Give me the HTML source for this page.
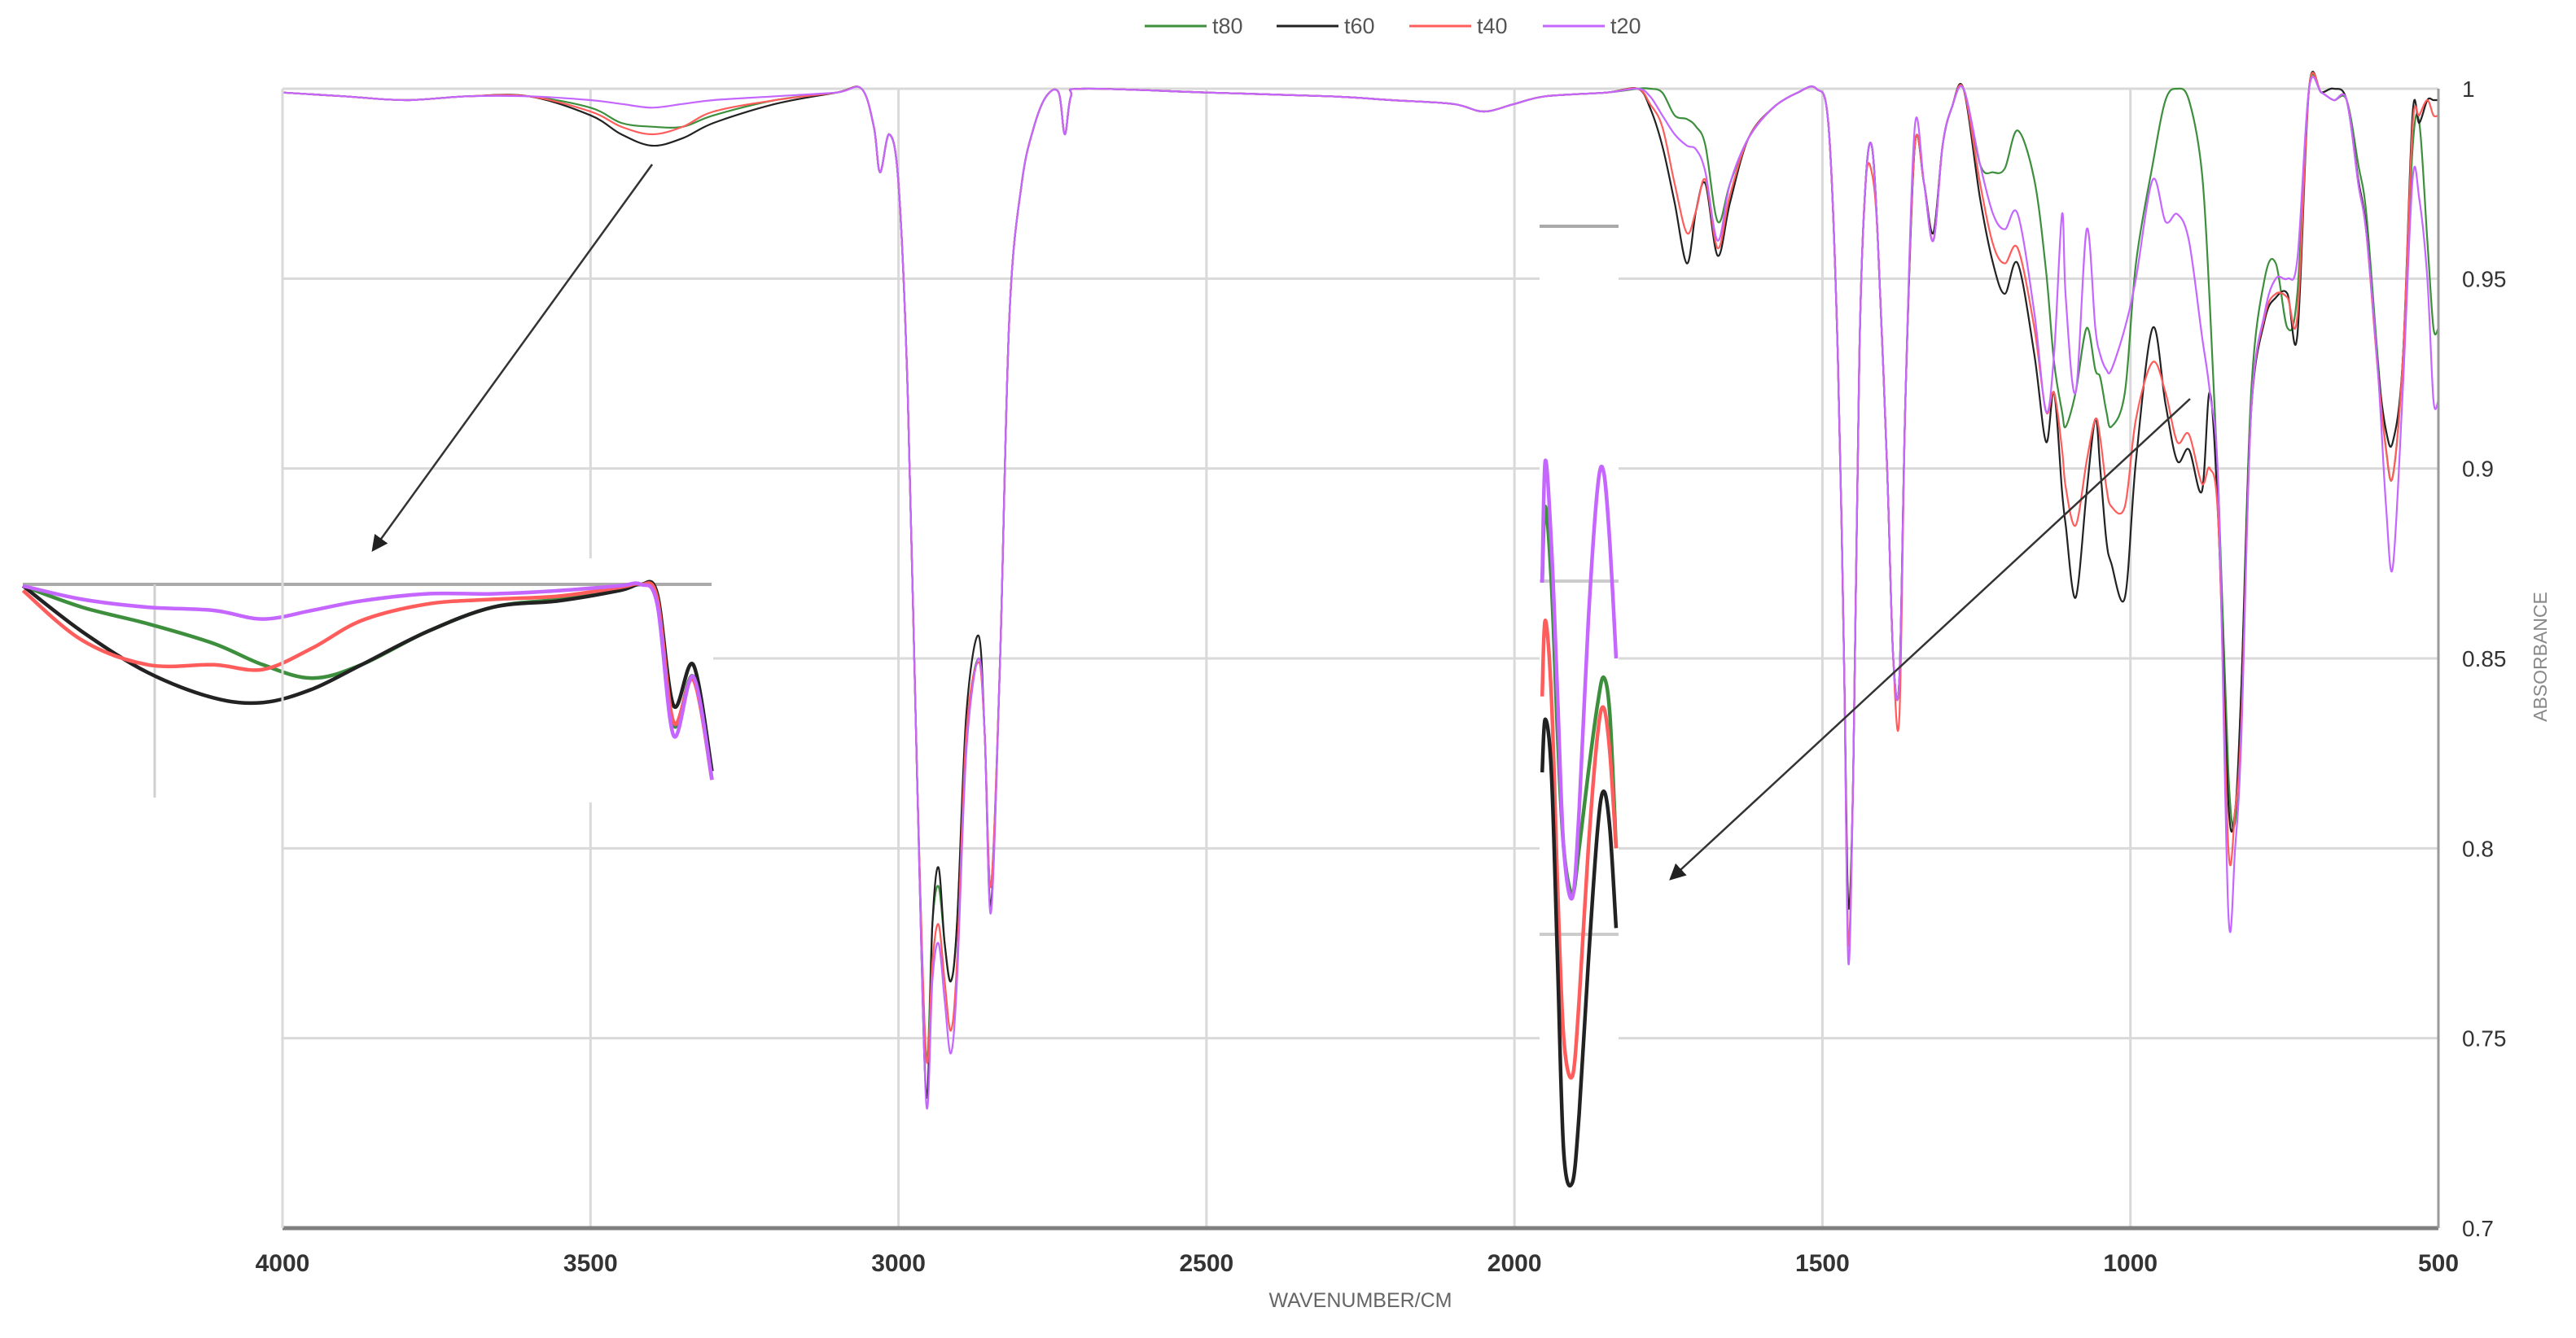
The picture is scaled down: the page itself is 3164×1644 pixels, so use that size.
<!DOCTYPE html>
<html><head><meta charset="utf-8"><style>
html,body{margin:0;padding:0;background:#fff;}
svg{display:block;font-family:"Liberation Sans",sans-serif;}
</style></head><body>
<svg id="chart" width="3164" height="1644" viewBox="0 0 3164 1644" xmlns="http://www.w3.org/2000/svg">
<rect width="3164" height="1644" fill="#fff"/>
<g id="grid"></g>
<g id="series"></g>
<g id="cutout"></g>
<g id="inset"></g>
<g id="axes"></g>
<g id="legend"></g>
</svg>
<script>
const xTicks=[4000,3500,3000,2500,2000,1500,1000,500];
const yTicks=[0.7,0.75,0.8,0.85,0.9,0.95,1];
const yTickLabels=["0.7","0.75","0.8","0.85","0.9","0.95","1"];
const seriesNames=["t80","t60","t40","t20"];
const wn=[4000,3900,3800,3700,3600,3500,3450,3400,3350,3300,3200,3100,3060,3040,3030,3015,3000,2985,2970,2955,2945,2935,2925,2915,2905,2890,2870,2860,2850,2835,2820,2800,2780,2760,2740,2730,2720,2700,2500,2300,2200,2100,2050,2000,1950,1850,1800,1780,1760,1740,1720,1705,1690,1670,1650,1620,1580,1540,1510,1490,1475,1465,1458,1450,1440,1430,1420,1410,1395,1385,1375,1365,1350,1335,1320,1305,1290,
1271,1244,1223,1204,1183,1156,1137,1124,1111,1105,1089,1071,1057,1049,1039,1031,1009,991,964,943,924,905,884,871,857,841,830,820,804,782,764,745,729,710,690,670,649,630,617,598,585,574,558,542,531,518,508,500];
const t80=[0.999,0.998,0.997,0.998,0.998,0.995,0.991,0.990,0.990,0.993,0.997,0.999,1.0,0.99,0.978,0.988,0.975,0.92,0.82,0.745,0.78,0.79,0.775,0.765,0.78,0.83,0.85,0.83,0.79,0.85,0.94,0.975,0.99,0.998,0.999,0.988,0.998,1.0,0.999,0.998,0.997,0.996,0.994,0.996,0.998,0.999,1.0,1.0,0.999,0.993,0.992,0.99,0.985,0.965,0.975,0.987,0.995,0.999,1.0,0.99,0.93,0.85,0.775,0.82,0.93,0.975,0.985,0.96,0.9,0.85,0.845,0.92,0.985,0.975,0.96,0.985,0.995,
1.0,0.98,0.978,0.979,0.989,0.976,0.952,0.928,0.915,0.911,0.92,0.937,0.926,0.924,0.915,0.911,0.92,0.954,0.98,0.997,1.0,0.997,0.978,0.943,0.894,0.82,0.807,0.842,0.92,0.95,0.954,0.937,0.946,1.0,0.999,0.997,0.997,0.98,0.967,0.928,0.905,0.898,0.928,0.984,0.991,0.96,0.937,0.937];
const t60=[0.999,0.998,0.997,0.998,0.998,0.993,0.988,0.985,0.987,0.991,0.996,0.999,1.0,0.99,0.978,0.988,0.975,0.92,0.82,0.735,0.78,0.795,0.775,0.765,0.78,0.835,0.856,0.83,0.785,0.85,0.94,0.975,0.99,0.998,0.999,0.988,0.998,1.0,0.999,0.998,0.997,0.996,0.994,0.996,0.998,0.999,1.0,0.995,0.985,0.97,0.954,0.968,0.975,0.956,0.97,0.987,0.995,0.999,1.0,0.99,0.93,0.85,0.785,0.82,0.93,0.975,0.985,0.96,0.9,0.85,0.845,0.92,0.985,0.975,0.962,0.985,0.995,
1.0,0.971,0.954,0.946,0.954,0.93,0.907,0.92,0.894,0.885,0.866,0.894,0.913,0.90,0.881,0.875,0.866,0.902,0.937,0.917,0.902,0.905,0.894,0.92,0.885,0.812,0.81,0.842,0.915,0.939,0.945,0.946,0.935,1.0,0.999,1.0,0.997,0.976,0.963,0.926,0.91,0.907,0.928,0.993,0.991,0.997,0.997,0.997];
const t40=[0.999,0.998,0.997,0.998,0.998,0.994,0.990,0.988,0.990,0.994,0.997,0.999,1.0,0.99,0.978,0.988,0.975,0.92,0.82,0.745,0.77,0.78,0.765,0.752,0.77,0.83,0.849,0.83,0.79,0.85,0.94,0.975,0.99,0.998,0.999,0.988,0.998,1.0,0.999,0.998,0.997,0.996,0.994,0.996,0.998,0.999,1.0,0.996,0.99,0.975,0.962,0.968,0.976,0.958,0.972,0.987,0.995,0.999,1.0,0.99,0.93,0.85,0.775,0.82,0.93,0.975,0.978,0.96,0.9,0.85,0.835,0.92,0.985,0.975,0.96,0.985,0.995,
1.0,0.975,0.959,0.954,0.958,0.937,0.915,0.92,0.905,0.895,0.885,0.902,0.913,0.908,0.895,0.89,0.89,0.913,0.928,0.92,0.907,0.909,0.896,0.9,0.885,0.8,0.81,0.833,0.915,0.94,0.946,0.945,0.94,1.0,0.999,0.997,0.997,0.975,0.962,0.925,0.905,0.898,0.928,0.99,0.993,0.997,0.993,0.993];
const t20=[0.999,0.998,0.997,0.998,0.998,0.997,0.996,0.995,0.996,0.997,0.998,0.999,1.0,0.99,0.978,0.988,0.975,0.92,0.82,0.733,0.765,0.775,0.76,0.746,0.765,0.825,0.85,0.83,0.783,0.85,0.94,0.975,0.99,0.998,0.999,0.988,0.998,1.0,0.999,0.998,0.997,0.996,0.994,0.996,0.998,0.999,1.0,0.998,0.993,0.988,0.985,0.984,0.978,0.96,0.975,0.987,0.995,0.999,1.0,0.99,0.93,0.85,0.77,0.82,0.93,0.975,0.985,0.96,0.9,0.85,0.845,0.92,0.99,0.975,0.96,0.985,0.995,
1.0,0.98,0.967,0.963,0.967,0.941,0.915,0.93,0.967,0.945,0.92,0.963,0.937,0.93,0.926,0.926,0.937,0.95,0.976,0.965,0.967,0.96,0.935,0.92,0.894,0.783,0.8,0.829,0.915,0.941,0.95,0.95,0.955,1.0,0.999,0.997,0.997,0.975,0.962,0.925,0.89,0.874,0.92,0.976,0.971,0.95,0.918,0.918];
// cutout inset (1955-1835 cm-1)
const cutWn=[1955,1950,1940,1930,1920,1906,1895,1880,1865,1855,1845,1835];
const cutT80=[0.87,0.89,0.87,0.83,0.80,0.788,0.80,0.82,0.838,0.845,0.835,0.80];
const cutT60=[0.82,0.834,0.82,0.77,0.72,0.712,0.73,0.77,0.805,0.815,0.805,0.779];
const cutT40=[0.84,0.86,0.84,0.79,0.75,0.74,0.76,0.80,0.83,0.837,0.825,0.80];
const cutT20=[0.87,0.902,0.88,0.84,0.80,0.787,0.81,0.86,0.895,0.899,0.88,0.85];
// zoom inset (3624-2995 cm-1)
const insWn=[3624,3570,3510,3450,3405,3360,3315,3255,3195,3135,3080,3060,3045,3030,3012,2995];
const insT80=[0.9998,0.9971,0.995,0.9925,0.9898,0.9881,0.9898,0.994,0.9971,0.9981,0.9992,1,0.9983,0.9821,0.9883,0.9752];
const insT60=[0.9998,0.994,0.9888,0.9856,0.985,0.9867,0.9898,0.994,0.9971,0.9979,0.9992,1,0.9988,0.9846,0.9898,0.9763];
const insT40=[0.9992,0.9929,0.9898,0.9898,0.9892,0.9919,0.9954,0.9975,0.9981,0.9985,0.9996,1,0.9983,0.9825,0.9879,0.9752];
const insT20=[0.9998,0.9981,0.9971,0.9967,0.9956,0.9967,0.9979,0.9988,0.9988,0.9992,0.9998,1,0.9975,0.9808,0.9883,0.9752];

const colors=["#3d8f3d","#222222","#ff5c5c","#c466ff"];
const NS="http://www.w3.org/2000/svg";
const L=347,R=2995,T=109,B=1509;
const xS=v=>L+(4000-v)/3500*(R-L);
const yS=v=>T+(1-v)/0.3*(B-T);
const ixS=v=>(14+(3624-v)/1.5)*2.018;
const iyS=v=>718+(1-v)*9682;
function mk(tag,attrs,parent){const e=document.createElementNS(NS,tag);for(const k in attrs)e.setAttribute(k,attrs[k]);parent.appendChild(e);return e;}
function path(xs,ys,fx,fy){const p=xs.map((x,i)=>[fx(x),fy(ys[i])]);let d="M"+p[0][0].toFixed(1)+","+p[0][1].toFixed(1);
for(let i=0;i<p.length-1;i++){const p0=p[Math.max(0,i-1)],p1=p[i],p2=p[i+1],p3=p[Math.min(p.length-1,i+2)];
const c1=[p1[0]+(p2[0]-p0[0])/6,p1[1]+(p2[1]-p0[1])/6],c2=[p2[0]-(p3[0]-p1[0])/6,p2[1]-(p3[1]-p1[1])/6];
d+=" C"+c1[0].toFixed(1)+","+c1[1].toFixed(1)+" "+c2[0].toFixed(1)+","+c2[1].toFixed(1)+" "+p2[0].toFixed(1)+","+p2[1].toFixed(1);}return d;}
const grid=document.getElementById('grid');
xTicks.forEach(t=>{if(t===500)return;const l=mk('line',{x1:xS(t),x2:xS(t),y1:T,y2:B,stroke:'#d9d9d9','stroke-width':3},grid);

});
yTicks.forEach(t=>{if(t===0.7)return;const l=mk('line',{x1:L,x2:R,y1:yS(t),y2:yS(t),stroke:'#d9d9d9','stroke-width':3},grid);

});
const sg=document.getElementById('series');
[t80,t60,t40,t20].forEach((arr,i)=>{const n=Math.min(arr.length,wn.length);
const p=mk('path',{d:path(wn.slice(0,n),arr.slice(0,n),xS,yS),fill:'none',stroke:colors[i],'stroke-width':2.2},sg);

});
// cutout
const cg=document.getElementById('cutout');
const cr=mk('rect',{x:1891,y:200,width:97,height:1300,fill:'#fff'},cg);


[[278,'#aaa'],[714,'#ccc'],[1148,'#ccc']].forEach((g,i)=>{const l=mk('line',{x1:1891,x2:1988,y1:g[0],y2:g[0],stroke:g[1],'stroke-width':4},cg);

});
[cutT80,cutT40,cutT60,cutT20].forEach((arr,k)=>{const i=[0,2,1,3][k];
const p=mk('path',{d:path(cutWn,arr,xS,yS),fill:'none',stroke:colors[i],'stroke-width':4.5},cg);

});
// zoom inset
const ig=document.getElementById('inset');
const ir=mk('rect',{x:28,y:686,width:848,height:300,fill:'#fff'},ig);


const il1=mk('line',{x1:28,x2:874,y1:718,y2:718,stroke:'#aaa','stroke-width':4},ig);


const il2=mk('line',{x1:190,x2:190,y1:718,y2:980,stroke:'#d0d0d0','stroke-width':3},ig);


[insT80,insT60,insT40,insT20].forEach((arr,i)=>{
const p=mk('path',{d:path(insWn,arr,ixS,iyS),fill:'none',stroke:colors[i],'stroke-width':4.5},ig);

});
// axes
const ax=document.getElementById('axes');
const defs=mk('defs',{},ax);
const mkr=mk('marker',{id:'ah',markerWidth:8,markerHeight:8,refX:7,refY:4,orient:'auto',markerUnits:'strokeWidth'},defs);
mk('path',{d:'M0,0 L8,4 L0,8 Z',fill:'#222'},mkr);
const a1=mk('line',{x1:801,y1:202,x2:458,y2:676,stroke:'#333','stroke-width':2.5,'marker-end':'url(#ah)'},ax);


const a2=mk('line',{x1:2690,y1:490,x2:2052,y2:1080,stroke:'#333','stroke-width':2.5,'marker-end':'url(#ah)'},ax);


const xb=mk('line',{x1:L,x2:R,y1:B,y2:B,stroke:'#7f7f7f','stroke-width':5},ax);


const yb=mk('line',{x1:R,x2:R,y1:T,y2:B,stroke:'#9a9a9a','stroke-width':3},ax);


const yl=mk('line',{x1:L,x2:L,y1:T,y2:B,stroke:'#d9d9d9','stroke-width':3},ax);


xTicks.forEach(t=>{const e=mk('text',{x:xS(t),y:1562,'text-anchor':'middle','font-size':30,'font-weight':'bold',fill:'#333'},ax);e.textContent=t;

});
yTicks.forEach((t,i)=>{const e=mk('text',{x:3024,y:yS(t)+10,'font-size':28,fill:'#333'},ax);e.textContent=yTickLabels[i];

});
const xt=mk('text',{x:1671,y:1606,'text-anchor':'middle','font-size':25,fill:'#666'},ax);xt.textContent='WAVENUMBER/CM';


const yt=mk('text',{x:3128,y:807,'text-anchor':'middle','font-size':23,fill:'#888',transform:'rotate(-90 3128 807)'},ax);yt.textContent='ABSORBANCE';


// legend
const lg=document.getElementById('legend');
const legX=[1406,1568,1731,1895];
seriesNames.forEach((n,i)=>{const g=mk('g',{},lg);


mk('line',{x1:legX[i],x2:legX[i]+76,y1:32,y2:32,stroke:colors[i],'stroke-width':3},g);
const tx=mk('text',{x:legX[i]+83,y:41,'font-size':27,fill:'#555'},g);tx.textContent=n;});
</script>
</body></html>
